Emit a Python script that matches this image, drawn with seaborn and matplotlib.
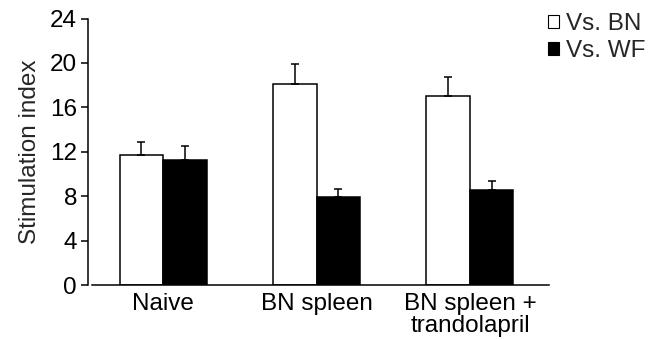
import pandas as pd
import seaborn as sns
import matplotlib.pyplot as plt
from matplotlib.patches import Patch

# Data
groups = ['Naive', 'BN spleen', 'BN spleen +\ntrandolapril']
series = ['Vs. BN', 'Vs. WF']
vs_bn = [11.7, 18.1, 17.0]
vs_wf = [11.3, 7.9, 8.6]
err_bn = [1.15, 1.8, 1.7]
err_wf = [1.25, 0.75, 0.8]

df = pd.DataFrame({
    'group': groups * 2,
    'series': [series[0]] * 3 + [series[1]] * 3,
    'value': vs_bn + vs_wf,
    'err': err_bn + err_wf,
})

sns.set_style('ticks')
plt.rcParams['font.family'] = ['Liberation Sans', 'DejaVu Sans']
fs = 17.5

fig = plt.figure(figsize=(6.58, 3.4), dpi=100)
ax = fig.add_axes([88 / 658, 1 - 285 / 340, (549 - 88) / 658, (285 - 18.5) / 340])

sns.barplot(data=df, x='group', y='value', hue='series', order=groups, hue_order=series,
            palette={'Vs. BN': 'white', 'Vs. WF': 'black'}, edgecolor='black',
            linewidth=1.1, width=0.567, errorbar=None, legend=False, ax=ax)

# one-sided error bars on top of each bar
for patch, (_, row) in zip(ax.patches, df.iterrows()):
    x = patch.get_x() + patch.get_width() / 2
    ax.errorbar(x, row['value'], yerr=[[0], [row['err']]], fmt='none', ecolor='black',
                elinewidth=1.1, capsize=3.2, capthick=1.1, zorder=1)

ax.set_ylim(0, 24)
ax.set_xlim(-0.489, 2.515)
ax.set_yticks(range(0, 25, 4))
ax.spines['top'].set_visible(False)
ax.spines['right'].set_visible(False)
ax.spines['bottom'].set_bounds(-0.464, 2.515)
for s in ['left', 'bottom']:
    ax.spines[s].set_linewidth(1.1)
    ax.spines[s].set_color('black')
ax.tick_params(axis='y', length=5, width=1.1, labelsize=fs, colors='black', pad=3)
ax.tick_params(axis='x', length=0, labelsize=fs, colors='black', pad=6)
ax.set_xlabel('')
ax.set_ylabel('Stimulation index', fontsize=fs, labelpad=6)
for lbl in ax.get_xticklabels():
    lbl.set_linespacing(1.0)

handles = [Patch(facecolor='white', edgecolor='black', linewidth=0.8),
           Patch(facecolor='black', edgecolor='black', linewidth=0.8)]
fig.legend(handles, series, loc='upper left', bbox_to_anchor=(543 / 658, 1 - 8 / 340),
           frameon=False, fontsize=fs, handlelength=0.45, handleheight=0.45,
           handletextpad=0.3, labelspacing=0.2, borderaxespad=0, borderpad=0.2)

fig.savefig('out.png', dpi=100)
